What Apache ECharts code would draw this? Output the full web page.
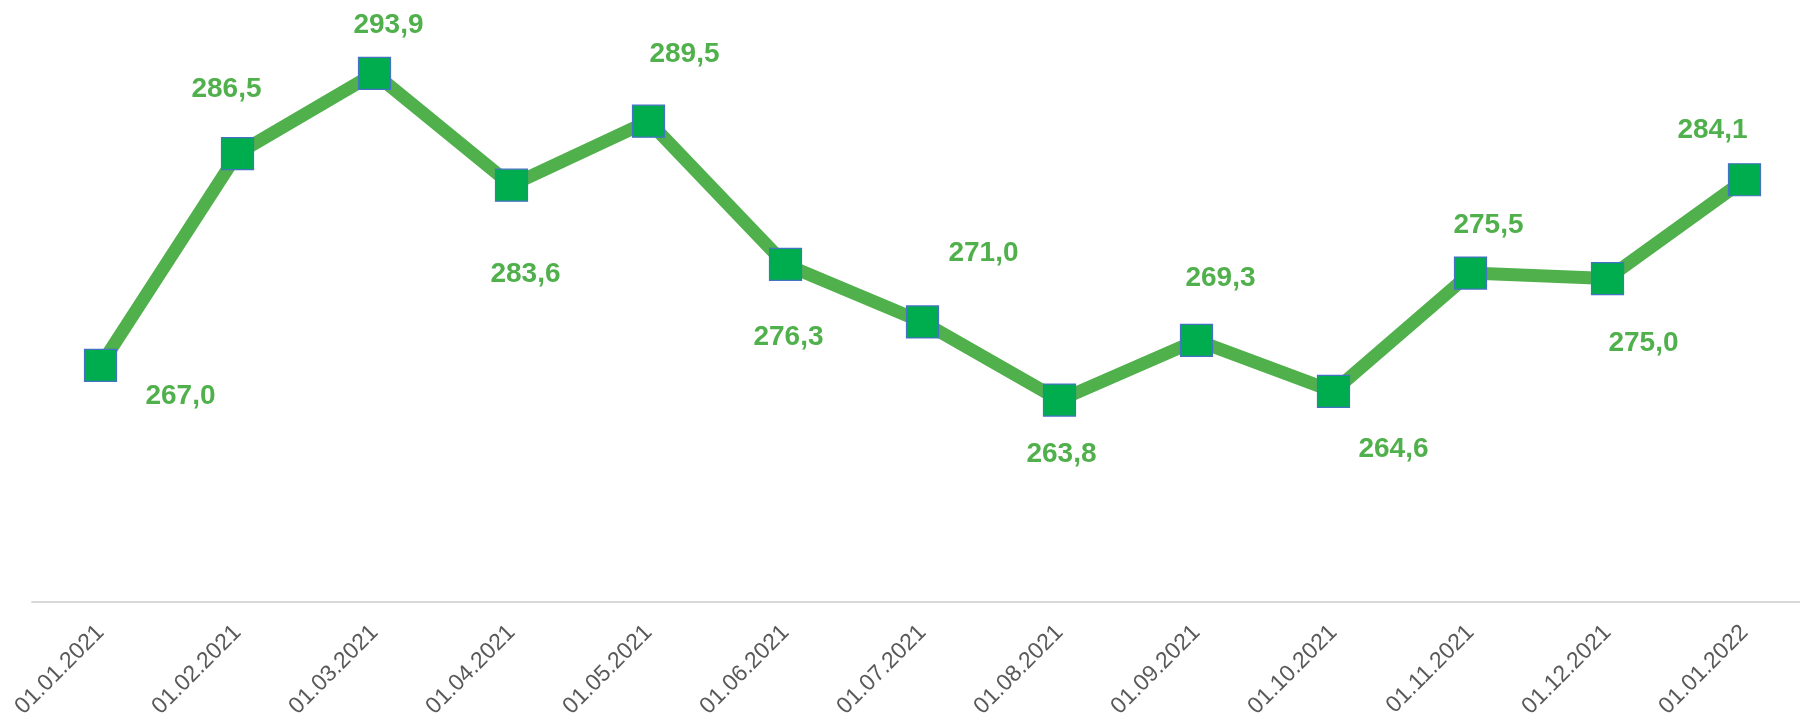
<!DOCTYPE html>
<html>
<head>
<meta charset="utf-8">
<script src="https://cdn.jsdelivr.net/npm/echarts@6/dist/echarts.min.js"></script>
<style>
  html, body { margin: 0; padding: 0; background: #fff; }
  #chart { width: 1800px; height: 715px; }
</style>
</head>
<body>
<div id="chart"></div>
<script>
const dates = ['01.01.2021', '01.02.2021', '01.03.2021', '01.04.2021', '01.05.2021', '01.06.2021',
  '01.07.2021', '01.08.2021', '01.09.2021', '01.10.2021', '01.11.2021', '01.12.2021', '01.01.2022']
const values = [267.0, 286.5, 293.9, 283.6, 289.5, 276.3, 271.0, 263.8, 269.3, 264.6, 275.5, 275.0, 284.1]
// где стоит подпись относительно точки (dx, dy)
const labelShift = [[80, 31], [-11, -64], [14, -48], [14, 89], [36, -67], [3, 73], [61, -69],
  [2, 54], [24, -62], [60, 58], [18, -48], [36, 65], [-32, -49]]

const green = '#50B04C'

let data = values.map((v, i) => ({
  value: v,
  label: { offset: labelShift[i] }
}))

let option = {
  animation: false,
  grid: { left: 32, width: 1781, top: 5, bottom: 113, outerBoundsMode: 'none' },
  xAxis: {
    type: 'category',
    data: dates,
    boundaryGap: true,
    axisLine: { lineStyle: { color: '#d9d9d9', width: 2 } },
    axisTick: { show: false },
    axisLabel: {
      rotate: 45,
      interval: 0,
      margin: 27,
      color: '#595959',
      fontSize: 23,
      fontFamily: 'Liberation Sans, Arial, sans-serif'
    }
  },
  yAxis: {
    type: 'value',
    min: 245.2,
    max: 300.2,
    show: false
  },
  series: [{
    type: 'line',
    data: data,
    symbol: 'rect',
    symbolSize: 32,
    lineStyle: { color: green, width: 13 },
    itemStyle: { color: '#00AD4E', borderColor: '#4472C4', borderWidth: 1.2 },
    label: {
      show: true,
      position: 'inside',
      align: 'center',
      verticalAlign: 'middle',
      color: green,
      fontSize: 28,
      fontWeight: 'bold',
      fontFamily: 'Liberation Sans, Arial, sans-serif',
      formatter: (p) => p.value.toFixed(1).replace('.', ',')
    }
  }]
}

var myChart = echarts.init(document.getElementById('chart'))
myChart.setOption(option)
</script>
</body>
</html>
